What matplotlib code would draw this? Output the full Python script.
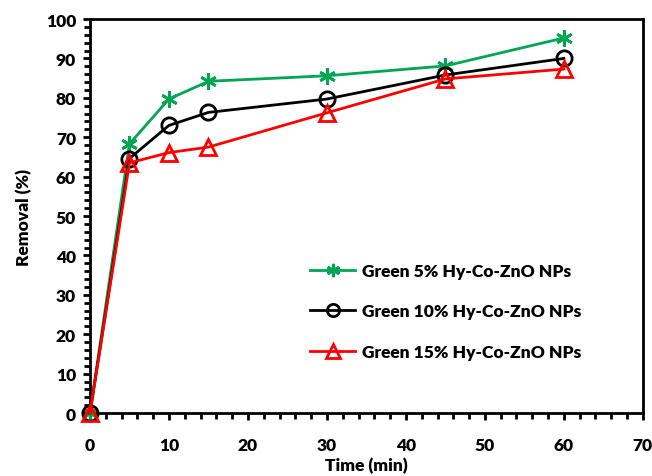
import matplotlib.pyplot as plt
from matplotlib.ticker import MultipleLocator

plt.rcParams['font.family'] = ['Lato', 'DejaVu Sans']
plt.rcParams['font.weight'] = 'heavy'

time_min = [0, 5, 10, 15, 30, 45, 60]
green_5 = [0, 68.3, 79.7, 84.2, 85.6, 88.1, 95.2]
green_10 = [0, 64.6, 73.0, 76.3, 79.7, 85.8, 90.0]
green_15 = [0, 63.5, 66.1, 67.5, 76.2, 84.8, 87.3]
labels = ['Green 5% Hy-Co-ZnO NPs', 'Green 10% Hy-Co-ZnO NPs', 'Green 15% Hy-Co-ZnO NPs']

fig = plt.figure(figsize=(6.52, 4.77), dpi=100)
ax = fig.add_axes([0.138, 0.132, 0.848, 0.826])

ax.plot(time_min, green_5, color='#00a651', lw=2, marker=(6, 2, 0), ms=12, mew=2,
        label=labels[0], clip_on=False, zorder=3)
ax.plot(time_min, green_10, color='black', lw=2, marker='o', ms=11, mew=2,
        mfc='none', label=labels[1], clip_on=False, zorder=4)
ax.plot(time_min, green_15, color='red', lw=2, marker='^', ms=12, mew=2,
        mfc='none', label=labels[2], clip_on=False, zorder=5)

ax.set_xlim(0, 70)
ax.set_ylim(0, 100)
ax.xaxis.set_major_locator(MultipleLocator(10))
ax.xaxis.set_minor_locator(MultipleLocator(2))
ax.yaxis.set_major_locator(MultipleLocator(10))
ax.yaxis.set_minor_locator(MultipleLocator(2))
ax.tick_params(which='major', direction='out', length=5, width=2, labelsize=12.5)
ax.tick_params(which='minor', direction='out', length=4, width=2)
ax.tick_params(axis='x', pad=12)
ax.tick_params(axis='y', pad=5)
for s in ax.spines.values():
    s.set_linewidth(2)

ax.set_xlabel('Time (min)', fontsize=12.5, fontweight='heavy', labelpad=3)
ax.set_ylabel('Removal (%)', fontsize=12.5, fontweight='heavy', labelpad=10)

leg = ax.legend(loc='upper left', bbox_to_anchor=(0.37, 0.42), frameon=False,
                fontsize=12.5, handlelength=2.6, handletextpad=0.4,
                labelspacing=1.4, markerscale=0.8)

fig.savefig('out.png', dpi=100)
